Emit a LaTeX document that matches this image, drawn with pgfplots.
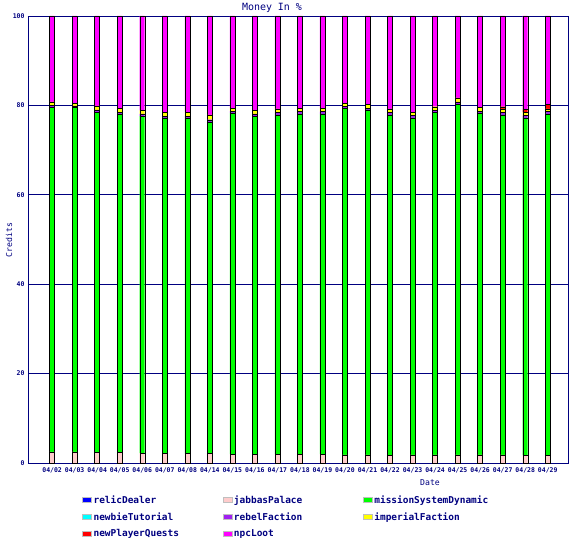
\documentclass[border=0pt]{standalone}
\usepackage{pgfplots}
\pgfplotsset{compat=1.18}
\usepackage{pgfplotstable}
\usepackage{fontspec}
\setmainfont{DejaVu Sans Mono}

\definecolor{navyc}{RGB}{0,0,128}
\definecolor{relicc}{RGB}{0,0,255}
\definecolor{jabbac}{RGB}{255,204,204}
\definecolor{missionc}{RGB}{0,255,0}
\definecolor{newbiec}{RGB}{0,255,255}
\definecolor{rebelc}{RGB}{160,32,240}
\definecolor{imperialc}{RGB}{255,255,0}
\definecolor{npqc}{RGB}{255,0,0}
\definecolor{npcc}{RGB}{255,0,255}

% share of credits per day, percent
\pgfplotstableread{
x  relic jabba mission newbie rebel imperial npq npc
0  0 2.5 77.1 0 0.4 0.8 0   19.2
1  0 2.5 77.1 0 0.3 0.6 0   19.5
2  0 2.4 76.1 0 0.5 0.9 0   20.1
3  0 2.4 75.7 0 0.4 0.9 0   20.6
4  0 2.2 75.4 0 0.5 0.8 0   21.1
5  0 2.1 75.1 0 0.4 0.9 0   21.5
6  0 2.1 75.1 0 0.4 0.9 0   21.5
7  0 2.2 74.1 0 0.5 1.1 0   22.1
8  0 2.0 76.3 0 0.4 0.7 0   20.6
9  0 2.0 75.6 0 0.5 0.8 0   21.1
10 0 2.0 75.9 0 0.5 0.8 0   20.8
11 0 2.0 76.1 0 0.5 0.8 0   20.6
12 0 2.0 76.1 0 0.5 0.8 0   20.6
13 0 1.8 77.6 0 0.4 0.7 0   19.5
14 0 1.8 77.2 0 0.4 0.9 0   19.7
15 0 1.7 76.2 0 0.5 0.8 0   20.8
16 0 1.8 75.4 0 0.5 0.8 0   21.5
17 0 1.8 76.7 0 0.4 0.8 0   20.3
18 0 1.8 78.5 0 0.5 0.9 0   18.3
19 0 1.8 76.5 0 0.4 0.9 0   20.4
20 0 1.8 76.1 0 0.5 0.8 0.5 20.3
21 0 1.7 75.5 0 0.5 0.8 0.6 20.9
22 0 1.7 76.4 0 0.5 0.6 1.0 19.8
}\money

\begin{document}
\begin{tikzpicture}
\begin{axis}[
    scale only axis,
    width=540bp, height=447bp,
    ybar stacked,
    bar width=5bp,
    xmin=-1.07, xmax=22.9,
    ymin=0, ymax=100,
    xtick={0,...,22},
    xticklabels={04/02,04/03,04/04,04/05,04/06,04/07,04/08,04/14,04/15,04/16,04/17,04/18,04/19,04/20,04/21,04/22,04/23,04/24,04/25,04/26,04/27,04/28,04/29},
    ytick={0,20,...,100},
    major tick length=0pt,
    ymajorgrids,
    grid style={navyc, line width=0.8bp},
    axis line style={navyc, line width=0.8bp},
    tick label style={font=\fontsize{6.5}{7}\selectfont\bfseries, text=navyc},
    xticklabel style={yshift=-1.5bp},
    /pgf/number format/assume math mode=true,
    every bar/.append style={draw=black!18, line width=0.8bp},
    area legend,
    legend image code/.code={\draw[#1, draw=black!25] (0bp,-2.5bp) rectangle (9bp,3bp);},
    legend columns=3,
    legend style={at={(0.1,-0.068)}, anchor=north west, draw=none, fill=none,
        font=\fontsize{9.5}{10}\selectfont\bfseries, text=navyc,
        row sep=3.8bp, inner sep=0pt,
        /tikz/every even column/.append style={column sep=2bp}},
    legend cell align=left,
]
\addplot[fill=relicc] table[x=x, y=relic]{\money};
\addlegendentry{\makebox[125bp][l]{relicDealer}}
\addplot[fill=jabbac] table[x=x, y=jabba]{\money};
\addlegendentry{\makebox[125bp][l]{jabbasPalace}}
\addplot[fill=missionc] table[x=x, y=mission]{\money};
\addlegendentry{missionSystemDynamic}
\addplot[fill=newbiec] table[x=x, y=newbie]{\money};
\addlegendentry{\makebox[125bp][l]{newbieTutorial}}
\addplot[fill=rebelc] table[x=x, y=rebel]{\money};
\addlegendentry{\makebox[125bp][l]{rebelFaction}}
\addplot[fill=imperialc] table[x=x, y=imperial]{\money};
\addlegendentry{imperialFaction}
\addplot[fill=npqc] table[x=x, y=npq]{\money};
\addlegendentry{\makebox[125bp][l]{newPlayerQuests}}
\addplot[fill=npcc] table[x=x, y=npc]{\money};
\addlegendentry{\makebox[125bp][l]{npcLoot}}
\end{axis}
\node[text=navyc, font=\fontsize{10}{11}\selectfont] at (244bp,455bp) {Money In \%};
\node[text=navyc, font=\fontsize{8.2}{9}\selectfont, rotate=90] at (-19bp,223bp) {Credits};
\node[text=navyc, font=\fontsize{8.2}{9}\selectfont] at (402bp,-20bp) {Date};
\pgfresetboundingbox
\path[use as bounding box] (-28bp,-79bp) rectangle (547bp,463bp);
\end{tikzpicture}
\end{document}
